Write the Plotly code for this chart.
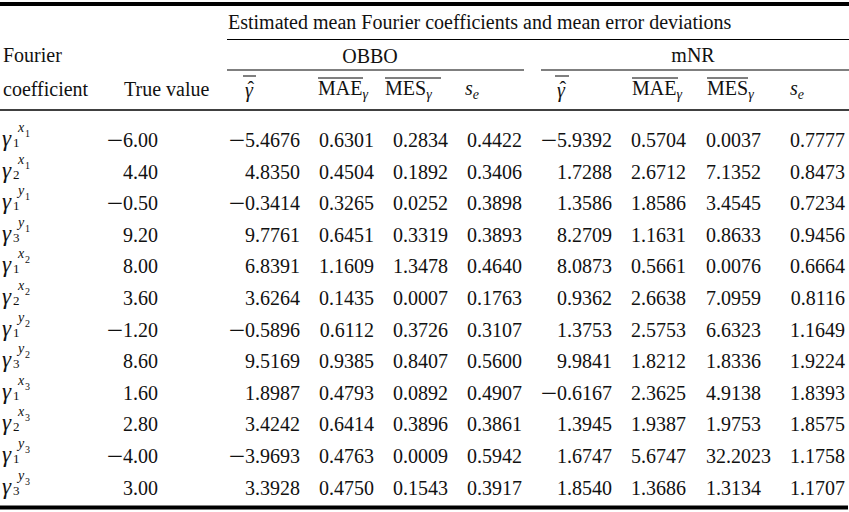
import plotly.graph_objects as go

# ---------------- data ----------------
sub_idx = [1, 2, 1, 3, 1, 2, 1, 3, 1, 2, 1, 3]
sup_var = ["x", "x", "y", "y", "x", "x", "y", "y", "x", "x", "y", "y"]
sup_idx = [1, 1, 1, 1, 2, 2, 2, 2, 3, 3, 3, 3]
true_value = [-6.00, 4.40, -0.50, 9.20, 8.00, 3.60, -1.20, 8.60, 1.60, 2.80, -4.00, 3.00]

obbo_gamma = [-5.4676, 4.8350, -0.3414, 9.7761, 6.8391, 3.6264, -0.5896, 9.5169, 1.8987, 3.4242, -3.9693, 3.3928]
obbo_mae = [0.6301, 0.4504, 0.3265, 0.6451, 1.1609, 0.1435, 0.6112, 0.9385, 0.4793, 0.6414, 0.4763, 0.4750]
obbo_mes = [0.2834, 0.1892, 0.0252, 0.3319, 1.3478, 0.0007, 0.3726, 0.8407, 0.0892, 0.3896, 0.0009, 0.1543]
obbo_se = [0.4422, 0.3406, 0.3898, 0.3893, 0.4640, 0.1763, 0.3107, 0.5600, 0.4907, 0.3861, 0.5942, 0.3917]

mnr_gamma = [-5.9392, 1.7288, 1.3586, 8.2709, 8.0873, 0.9362, 1.3753, 9.9841, -0.6167, 1.3945, 1.6747, 1.8540]
mnr_mae = [0.5704, 2.6712, 1.8586, 1.1631, 0.5661, 2.6638, 2.5753, 1.8212, 2.3625, 1.9387, 5.6747, 1.3686]
mnr_mes = [0.0037, 7.1352, 3.4545, 0.8633, 0.0076, 7.0959, 6.6323, 1.8336, 4.9138, 1.9753, 32.2023, 1.3134]
mnr_se = [0.7777, 0.8473, 0.7234, 0.9456, 0.6664, 0.8116, 1.1649, 1.9224, 1.8393, 1.8575, 1.1758, 1.1707]

title_text = "Estimated mean Fourier coefficients and mean error deviations"
method_names = ["OBBO", "mNR"]

# ---------------- helpers ----------------
FONT = "Liberation Serif, Times New Roman, serif"
COLOR = "#111111"
W, H = 849, 512
MINUS = '<span style="font-size:29px;baseline-shift:-2.5px">\u2212</span>'


def fmt(v, d):
    s = f"{abs(v):.{d}f}"
    return (MINUS + s) if v < 0 else s


fig = go.Figure()


def add_text(xs, baselines, texts, size, pos):
    ys = [b - 0.25 * size for b in baselines]
    fig.add_trace(go.Scatter(
        x=xs, y=ys, text=texts, mode="text", textposition=pos,
        textfont=dict(family=FONT, size=size, color=COLOR),
        hoverinfo="skip", showlegend=False, cliponaxis=False))


n = len(true_value)
row_c = [140 + i * 31.6 for i in range(n)]
base = [c + 7 for c in row_c]

# row labels
add_text([2] * n, [c + 6 for c in row_c], ["<i>\u03b3</i>"] * n, 23, "middle right")
add_text([13] * n, [c + 7 for c in row_c], [str(k) for k in sub_idx], 13, "middle right")
add_text([18] * n, [c - 8 for c in row_c], [f"<i>{v}</i>" for v in sup_var], 14, "middle right")
add_text([25] * n, [c - 3 for c in row_c], [str(k) for k in sup_idx], 10, "middle right")

# numeric columns
add_text([158] * n, base, [fmt(v, 2) for v in true_value], 20, "middle left")
add_text([300] * n, base, [fmt(v, 4) for v in obbo_gamma], 20, "middle left")
add_text([374] * n, base, [fmt(v, 4) for v in obbo_mae], 20, "middle left")
add_text([448] * n, base, [fmt(v, 4) for v in obbo_mes], 20, "middle left")
add_text([522] * n, base, [fmt(v, 4) for v in obbo_se], 20, "middle left")
add_text([612] * n, base, [fmt(v, 4) for v in mnr_gamma], 20, "middle left")
add_text([686] * n, base, [fmt(v, 4) for v in mnr_mae], 20, "middle left")
add_text([706] * n, base, [fmt(v, 4) for v in mnr_mes], 20, "middle right")
add_text([845] * n, base, [fmt(v, 4) for v in mnr_se], 20, "middle left")

# header texts
add_text([228], [29], [title_text], 20, "middle right")
add_text([3], [62], ["Fourier"], 20, "middle right")
add_text([370, 693], [63, 62], method_names, 20, "middle center")
add_text([3], [96], ["coefficient"], 20, "middle right")
add_text([124], [96], ["True value"], 20, "middle right")
add_text([245, 557], [97, 97], ["<i>\u03b3</i>", "<i>\u03b3</i>"], 20, "middle right")
add_text([247.5, 559.5], [96, 96], ["\u02c6", "\u02c6"], 20, "middle right")
add_text([318, 632], [95, 95], ["MAE<sub><i>\u03b3</i></sub>"] * 2, 20, "middle right")
add_text([385, 707], [95, 95], ["MES<sub><i>\u03b3</i></sub>"] * 2, 20, "middle right")
add_text([465, 790], [95, 95], ["<i>s</i><sub><i>e</i></sub>"] * 2, 20, "middle right")

# rules
shapes = []


def hline(x0, x1, y, w):
    shapes.append(dict(type="line", xref="x", yref="y", x0=x0, x1=x1, y0=y, y1=y,
                       line=dict(color="#000000", width=w)))


hline(0, 849, 4, 4)
hline(227, 849, 39.5, 1.2)
hline(227, 524, 70, 1.2)
hline(541, 849, 70, 1.2)
hline(0, 849, 110, 1.3)
hline(0, 848, 507.5, 4)
# overlines on header symbols
for x0, x1, y in [(243, 256, 76), (318, 363, 78), (385, 441, 78),
                  (555, 569, 76), (632, 678, 78), (707, 748, 78)]:
    hline(x0, x1, y, 1)

fig.update_layout(
    width=W, height=H, margin=dict(l=0, r=0, t=0, b=0),
    paper_bgcolor="white", plot_bgcolor="white",
    xaxis=dict(range=[0, W], visible=False, fixedrange=True),
    yaxis=dict(range=[H, 0], visible=False, fixedrange=True),
    shapes=shapes, showlegend=False,
)

fig.write_html("out.html", config={"displayModeBar": False},
               post_script="document.body.style.margin='0';")
